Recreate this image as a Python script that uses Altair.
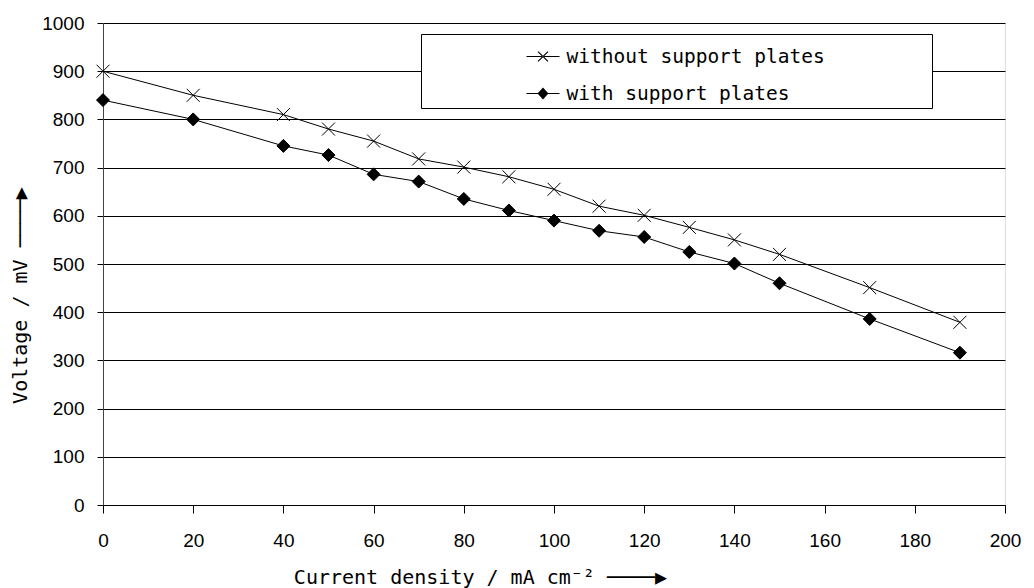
import altair as alt
import pandas as pd

# ---- data ----
current_density = [0, 20, 40, 50, 60, 70, 80, 90, 100, 110, 120, 130, 140, 150, 170, 190]
without_plates = [900, 850, 810, 780, 755, 718, 701, 681, 655, 620, 601, 576, 550, 520, 451, 379]
with_plates = [840, 800, 745, 726, 686, 671, 635, 611, 590, 569, 556, 525, 501, 460, 386, 316]
series_names = ["without support plates", "with support plates"]
x_ticks = list(range(0, 201, 20))
y_ticks = list(range(0, 1001, 100))

rows = []
for name, vals in zip(series_names, [without_plates, with_plates]):
    for xv, yv in zip(current_density, vals):
        rows.append({"x": xv, "v": yv, "series": name})
df = pd.DataFrame(rows)

# marker shapes (unit square -1..1)
X_PATH = "M-1,-1L1,1M-1,1L1,-1"
DIAMOND_PATH = "M0,-1L1,0L0,1L-1,0Z"

# legend symbols drawn as filled outlines: a thin bar plus the marker
t = 0.035          # half thickness of the bar
a = 0.3            # half size of the legend X
d = 0.025          # half thickness of X arms (per axis)
BAR = f"M-1,{-t}L1,{-t}L1,{t}L-1,{t}Z"
LEG_X = (BAR
         + f"M{-a+d},{-a-d}L{a+d},{a-d}L{a-d},{a+d}L{-a-d},{-a+d}Z"
         + f"M{-a+d},{a+d}L{a+d},{-a+d}L{a-d},{-a-d}L{-a-d},{a-d}Z")
LEG_D = BAR + "M0,-0.36L0.33,0L0,0.36L-0.33,0Z"
PAD = "\u2800" * 3 + "\u2009" + "\u2800" * 3

x_enc = alt.X(
    "x:Q",
    scale=alt.Scale(domain=[0, 200], nice=False),
    axis=alt.Axis(
        values=x_ticks, grid=False, domainColor="black", tickColor="black",
        tickSize=8, labelFont="Liberation Sans", labelFontSize=19, labelColor="black",
        labelPadding=18, labelFlush=False, format="d",
        title="Current density / mA cm\u207b\u00b2  \u2500\u2500\u2500\u2500\u25b6",
        titleFont="DejaVu Sans Mono", titleFontSize=20, titleFontWeight="normal",
        titleColor="black", titleX=377, titleY=78, titleAlign="center",
        titleBaseline="alphabetic",
    ),
)
y_enc = alt.Y(
    "v:Q",
    scale=alt.Scale(domain=[0, 1000], nice=False),
    axis=alt.Axis(
        values=y_ticks, grid=True, gridColor="black", gridWidth=1, gridOpacity=1,
        domainColor="#444444", tickColor="black", tickSize=6,
        labelFont="Liberation Sans", labelFontSize=19, labelColor="black",
        labelPadding=13, labelFlush=False, format="d",
        title="Voltage / mV  \u2500\u2500\u2500\u2500\u25b6",
        titleFont="DejaVu Sans Mono", titleFontSize=20, titleFontWeight="normal",
        titleColor="black", titleX=-83, titleY=272, titleAngle=270,
        titleAlign="center", titleBaseline="middle",
    ),
)

lines = alt.Chart(df).mark_line(color="black", strokeWidth=1).encode(
    x=x_enc, y=y_enc, detail="series:N"
)

points = alt.Chart(df).mark_point(
    filled=True, fill="black", stroke="black", strokeWidth=1, opacity=1, size=169
).encode(
    x="x:Q",
    y="v:Q",
    shape=alt.Shape(
        "series:N",
        scale=alt.Scale(domain=series_names, range=[X_PATH, DIAMOND_PATH]),
        legend=None,
    ),
)

# invisible layer (size 0) that only supplies the legend with line+marker symbols
legend_layer = alt.Chart(df).mark_point(
    filled=True, fill="black", opacity=1, size=0
).encode(
    x="x:Q",
    y="v:Q",
    shape=alt.Shape(
        "series:N",
        scale=alt.Scale(domain=series_names, range=[LEG_X, LEG_D]),
        legend=alt.Legend(
            title=None, orient="none", legendX=318, legendY=11,
            fillColor="white", strokeColor="black", padding=5,
            symbolSize=1089, symbolOffset=99.5, symbolFillColor="black",
            symbolOpacity=1,
            labelFont="DejaVu Sans Mono", labelFontSize=19.5, labelColor="black",
            labelOffset=6, labelLimit=0, rowPadding=10,
            labelExpr=f"datum.label + '{PAD}'",
        ),
    ),
)

chart = alt.layer(lines, points, legend_layer).resolve_scale(
    shape="independent"
).properties(
    width=902, height=482,
    autosize=alt.AutoSizeParams(type="none"),
    padding={"left": 103, "top": 23, "right": 29, "bottom": 83},
).configure_view(stroke="#a0a0a0", strokeWidth=1).configure(background="white")

chart.save("out.html", embed_options={"renderer": "svg", "actions": False})
